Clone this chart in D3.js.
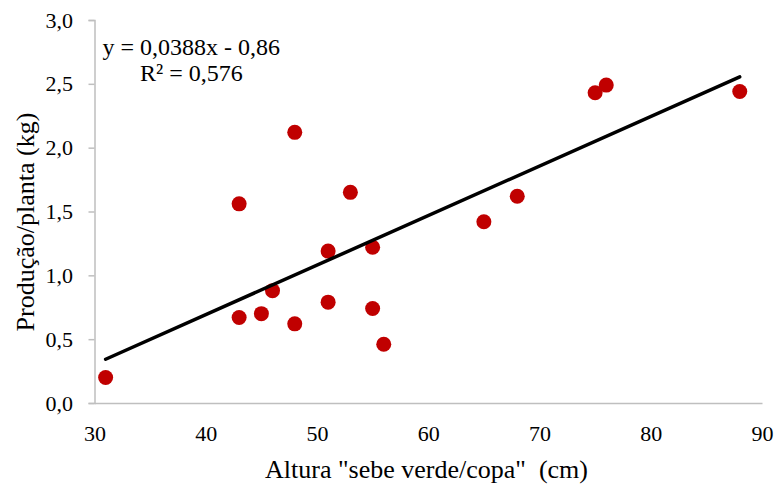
<!DOCTYPE html>
<html>
<head>
<meta charset="utf-8">
<script src="https://cdn.jsdelivr.net/npm/d3@7"></script>
<style>
  html, body { margin: 0; padding: 0; background: #fff; }
  svg { display: block; }
</style>
</head>
<body>
<svg id="chart" width="778" height="488" font-family="Liberation Serif"></svg>
<script>
// Hedge height (cm) vs. yield per plant (kg)
const alturaCm = [31, 43, 43, 45, 46, 48, 48, 51, 51, 53, 55, 55, 56, 65, 68, 75, 76, 88];
const producaoKg = [0.20, 0.67, 1.56, 0.70, 0.88, 2.12, 0.62, 1.19, 0.79, 1.65, 1.22, 0.74, 0.46, 1.42, 1.62, 2.43, 2.49, 2.44];

// Linear trend: y = slope * x + intercept
const trendSlope = [0.0388];
const trendIntercept = [-0.86];
const trendR2 = [0.576];

const xTicks = [30, 40, 50, 60, 70, 80, 90];
const yTicks = [0, 0.5, 1.0, 1.5, 2.0, 2.5, 3.0];

const FONT = "Liberation Serif";
const svg = d3.select("#chart");
const margin = { left: 94.5, right: 16, top: 20, bottom: 85 };
const W = 778, H = 488;

const x = d3.scaleLinear().domain([30, 90]).range([margin.left, W - margin.right]);
const y = d3.scaleLinear().domain([0, 3]).range([H - margin.bottom, margin.top]);

const fmt = v => d3.format(".1f")(v).replace(".", ",");
const axisColor = "#bfbfbf";

// Y axis
const gy = svg.append("g")
  .attr("transform", `translate(${x(30)},0)`)
  .call(d3.axisLeft(y).tickValues(yTicks).tickFormat(fmt).tickSize(6).tickPadding(15.5))
  .attr("font-family", FONT).attr("font-size", 22);
gy.select(".domain").attr("stroke", axisColor).attr("stroke-width", 1.5);
gy.selectAll(".tick line").attr("stroke", axisColor).attr("stroke-width", 1.5);
gy.selectAll(".tick text").attr("fill", "#000");

// X axis (no tick marks)
const gx = svg.append("g")
  .attr("transform", `translate(0,${y(0)})`)
  .call(d3.axisBottom(x).tickValues(xTicks).tickFormat(d3.format("d")).tickSize(0).tickPadding(22))
  .attr("font-family", FONT).attr("font-size", 22);
gx.select(".domain").attr("stroke", axisColor).attr("stroke-width", 1.5);
gx.selectAll(".tick text").attr("fill", "#000");

// Axis titles
svg.append("text")
  .attr("x", 426.5)
  .attr("y", 478)
  .attr("text-anchor", "middle")
  .attr("font-family", FONT).attr("font-size", 26)
  .style("white-space", "pre")
  .text("Altura \"sebe verde/copa\"  (cm)");

svg.append("text")
  .attr("transform", "translate(34,222) rotate(-90)")
  .attr("text-anchor", "middle")
  .attr("font-family", FONT).attr("font-size", 26)
  .text("Produção/planta (kg)");

// Points
const pts = alturaCm.map((a, i) => ({ a, p: producaoKg[i] }));
svg.append("g").selectAll("circle")
  .data(pts).join("circle")
  .attr("cx", d => x(d.a))
  .attr("cy", d => y(d.p))
  .attr("r", 7.5)
  .attr("fill", "#c00000");

// Trend line over the data range
const xMin = d3.min(alturaCm), xMax = d3.max(alturaCm);
const trend = [xMin, xMax].map(v => ({ a: v, p: trendSlope[0] * v + trendIntercept[0] }));
svg.append("path")
  .datum(trend)
  .attr("fill", "none")
  .attr("stroke", "#000")
  .attr("stroke-width", 3.5)
  .attr("stroke-linecap", "round")
  .attr("d", d3.line().x(d => x(d.a)).y(d => y(d.p)));

// Equation label
const eqFmt = (v, n) => d3.format(`.${n}f`)(v).replace(".", ",");
svg.append("text")
  .attr("x", 102.5).attr("y", 55)
  .attr("font-family", FONT).attr("font-size", 24)
  .text(`y = ${eqFmt(trendSlope[0], 4)}x - ${eqFmt(Math.abs(trendIntercept[0]), 2)}`);
svg.append("text")
  .attr("x", 140).attr("y", 81)
  .attr("font-family", FONT).attr("font-size", 24)
  .text(`R² = ${eqFmt(trendR2[0], 3)}`);
</script>
</body>
</html>
